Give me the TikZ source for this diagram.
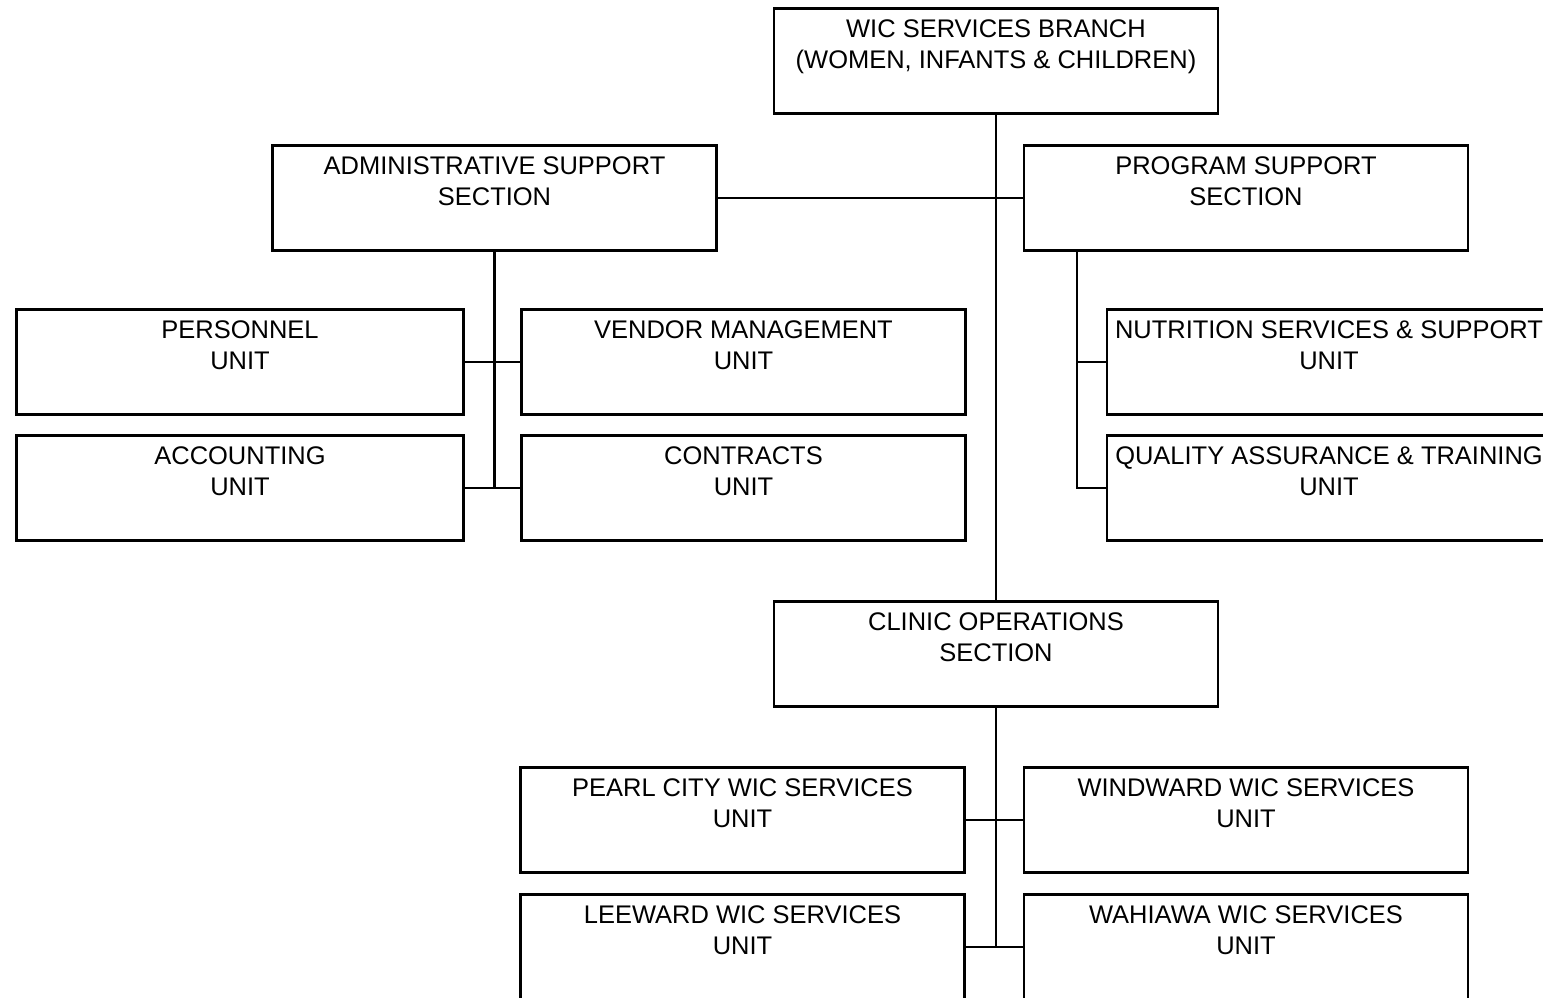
\documentclass[tikz,border=0pt]{standalone}
\usepackage{fontspec}
\setmainfont{Liberation Sans}
\usetikzlibrary{positioning}

\tikzset{
  orgbox/.style={draw, line width=1.4pt, minimum width=8.88cm, minimum height=2.1cm, inner sep=0pt},
  widebox/.style={orgbox, minimum width=8.94cm},
  boxtext/.style={anchor=north, align=center, inner sep=0pt, yshift=-0.25cm, font=\fontsize{14.5}{17.6}\selectfont},
  link/.style={line width=1.4pt}
}

\begin{document}
\begin{tikzpicture}[x=0.02cm, y=-0.02cm]
\useasboundingbox (0,0) rectangle (1543,998);

% branch and sections
\node[orgbox] (wic) at (996,61) {};
\node[boxtext] (wic-t) at (wic.north) {WIC SERVICES BRANCH\\(WOMEN, INFANTS \& CHILDREN)};
\node[orgbox] (adm) at (494.5,198) {};
\node[boxtext] (adm-t) at (adm.north) {ADMINISTRATIVE SUPPORT\\SECTION};
\node[orgbox] (prg) at (1246,198) {};
\node[boxtext] (prg-t) at (prg.north) {PROGRAM SUPPORT\\SECTION};
\node[orgbox] (cli) at (996,654) {};
\node[boxtext] (cli-t) at (cli.north) {CLINIC OPERATIONS\\SECTION};

% administrative units
\node[widebox] (per) at (240,362) {};
\node[boxtext] (per-t) at (per.north) {PERSONNEL\\UNIT};
\node[orgbox] (ven) at (743.5,362) {};
\node[boxtext] (ven-t) at (ven.north) {VENDOR MANAGEMENT\\UNIT};
\node[widebox] (acc) at (240,488) {};
\node[boxtext] (acc-t) at (acc.north) {ACCOUNTING\\UNIT};
\node[orgbox] (con) at (743.5,488) {};
\node[boxtext] (con-t) at (con.north) {CONTRACTS\\UNIT};

% program units
\node[orgbox] (nut) at (1329,362) {};
\node[boxtext] (nut-t) at (nut.north) {NUTRITION SERVICES \& SUPPORT\\UNIT};
\node[orgbox] (qua) at (1329,488) {};
\node[boxtext] (qua-t) at (qua.north) {QUALITY ASSURANCE \& TRAINING\\UNIT};

% clinic units
\node[orgbox] (pea) at (742.5,820) {};
\node[boxtext] (pea-t) at (pea.north) {PEARL CITY WIC SERVICES\\UNIT};
\node[orgbox] (win) at (1246,820) {};
\node[boxtext] (win-t) at (win.north) {WINDWARD WIC SERVICES\\UNIT};
\node[orgbox] (lee) at (742.5,947) {};
\node[boxtext] (lee-t) at (lee.north) {LEEWARD WIC SERVICES\\UNIT};
\node[orgbox] (wah) at (1246,947) {};
\node[boxtext] (wah-t) at (wah.north) {WAHIAWA WIC SERVICES\\UNIT};

% connectors
\draw[link] (wic.south) -- (wic.south |- cli.north);
\draw[link] (adm.east) -- (prg.west);
\draw[link] (adm.south) -- (adm.south |- acc.east);
\draw[link] (per.east) -- (ven.west);
\draw[link] (acc.east) -- (con.west);
\coordinate (prg-b) at ([xshift=1.08cm]prg.south west);
\draw[link] (prg-b) |- (qua.west);
\draw[link] (prg-b |- nut.west) -- (nut.west);
\draw[link] (cli.south) -- (cli.south |- lee.east);
\draw[link] (pea.east) -- (win.west);
\draw[link] (lee.east) -- (wah.west);
\end{tikzpicture}
\end{document}
